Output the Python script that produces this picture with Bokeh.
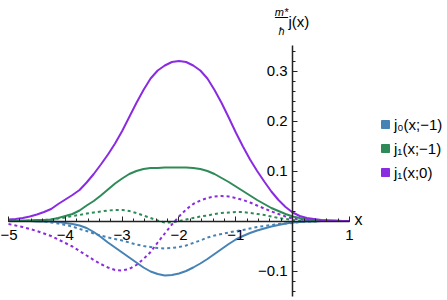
from bokeh.plotting import figure
from bokeh.models import (Range1d, FixedTicker, CustomJSTickFormatter, Label,
                          Legend, LegendItem)
from bokeh.embed import file_html
from bokeh.resources import INLINE

# ---- data ----
x = [-5.0, -4.875, -4.75, -4.625, -4.5, -4.375, -4.25, -4.125,
     -4.0, -3.875, -3.75, -3.625, -3.5, -3.375, -3.25, -3.125,
     -3.0, -2.875, -2.75, -2.625, -2.5, -2.375, -2.25, -2.125,
     -2.0, -1.875, -1.75, -1.625, -1.5, -1.375, -1.25, -1.125,
     -1.0, -0.875, -0.75, -0.625, -0.5, -0.375, -0.25, -0.125,
     0.0, 0.125, 0.25, 0.375, 0.5, 0.625, 0.75, 0.875, 1.0]

j0_m1 = [0.0, 0.0, 0.0, 0.0, -0.001, -0.001, -0.001, -0.002,
         -0.004, -0.006, -0.009, -0.014, -0.022, -0.032, -0.043, -0.053,
         -0.063, -0.073, -0.083, -0.093, -0.101, -0.106, -0.109, -0.108,
         -0.105, -0.100, -0.093, -0.085, -0.076, -0.066, -0.056, -0.046,
         -0.037, -0.030, -0.024, -0.019, -0.015, -0.011, -0.008, -0.005,
         -0.003, -0.002, -0.001, -0.001, 0.0, 0.0, 0.0, 0.0, 0.0]
j1_m1 = [0.0, 0.0, 0.001, 0.001, 0.002, 0.002, 0.003, 0.006,
         0.010, 0.014, 0.021, 0.031, 0.040, 0.051, 0.063, 0.075,
         0.085, 0.094, 0.100, 0.104, 0.106, 0.106, 0.107, 0.107,
         0.107, 0.107, 0.106, 0.104, 0.100, 0.094, 0.086, 0.078,
         0.069, 0.060, 0.051, 0.042, 0.034, 0.026, 0.020, 0.014,
         0.009, 0.006, 0.004, 0.002, 0.001, 0.001, 0.0, 0.0, 0.0]
j1_0 = [0.003, 0.004, 0.006, 0.009, 0.013, 0.018, 0.024, 0.034,
        0.043, 0.052, 0.062, 0.077, 0.094, 0.113, 0.133, 0.155,
        0.180, 0.208, 0.236, 0.262, 0.285, 0.301, 0.311, 0.318,
        0.320, 0.318, 0.311, 0.301, 0.285, 0.262, 0.236, 0.207,
        0.177, 0.149, 0.123, 0.100, 0.079, 0.059, 0.042, 0.028,
        0.017, 0.010, 0.006, 0.004, 0.002, 0.001, 0.001, 0.0, 0.0]

j0_m1_dot = [0.0, 0.0, 0.0, 0.0, 0.0, -0.001, -0.003, -0.005,
             -0.008, -0.011, -0.016, -0.020, -0.025, -0.029, -0.033, -0.036,
             -0.039, -0.043, -0.047, -0.050, -0.052, -0.054, -0.055, -0.054,
             -0.052, -0.049, -0.044, -0.039, -0.033, -0.029, -0.026, -0.023,
             -0.020, -0.018, -0.015, -0.012, -0.010, -0.008, -0.006, -0.005,
             -0.004, -0.002, -0.001, -0.001, 0.0, 0.0, 0.0, 0.0, 0.0]
j1_m1_dot = [0.0, 0.0, 0.0, 0.001, 0.001, 0.002, 0.003, 0.005,
             0.007, 0.010, 0.012, 0.015, 0.017, 0.019, 0.021, 0.022,
             0.022, 0.020, 0.016, 0.011, 0.006, 0.001, -0.003, -0.003,
             0.0, 0.003, 0.006, 0.009, 0.011, 0.014, 0.016, 0.017,
             0.018, 0.018, 0.016, 0.014, 0.012, 0.009, 0.006, 0.004,
             0.002, 0.001, 0.001, 0.0, 0.0, 0.0, 0.0, 0.0, 0.0]
j1_0_dot = [-0.006, -0.009, -0.012, -0.016, -0.020, -0.025, -0.030, -0.037,
            -0.044, -0.051, -0.060, -0.069, -0.078, -0.086, -0.093, -0.098,
            -0.099, -0.096, -0.088, -0.076, -0.062, -0.043, -0.025, -0.007,
            0.009, 0.023, 0.034, 0.041, 0.046, 0.049, 0.050, 0.049,
            0.046, 0.042, 0.037, 0.031, 0.025, 0.019, 0.014, 0.009,
            0.005, 0.003, 0.002, 0.001, 0.001, 0.0, 0.0, 0.0, 0.0]

legend_labels = ["j\u2080(x;\u22121)", "j\u2081(x;\u22121)", "j\u2081(x;0)"]
x_ticks = [-5, -4, -3, -2, -1, 0, 1]
x_minor = [round(-5 + 0.2 * i, 2) for i in range(31)]
y_ticks = [-0.1, 0.0, 0.1, 0.2, 0.3]
y_minor = [round(-0.14 + 0.02 * i, 2) for i in range(25)]

BLUE = "#4682B4"
GREEN = "#2E8B57"
PURPLE = "#8A2BE2"
FONT = "Liberation Sans"
NAN = float("nan")

# ---- figure (frame fills the canvas; axes are bounded) ----
p = figure(width=447, height=300, output_backend="svg", toolbar_location=None,
           x_range=Range1d(-5.1408, 2.7244), y_range=Range1d(-0.159, 0.441),
           min_border_left=0, min_border_right=0, min_border_top=0, min_border_bottom=0)
p.outline_line_color = None
p.xgrid.visible = False
p.ygrid.visible = False

# curves
p.line(x, j0_m1_dot, color=BLUE, line_width=2, line_dash="3 3")
p.line(x, j1_m1_dot, color=GREEN, line_width=2, line_dash="3 3")
p.line(x, j1_0_dot, color=PURPLE, line_width=2, line_dash="3 3")
p.line(x, j0_m1, color=BLUE, line_width=2)
p.line(x, j1_m1, color=GREEN, line_width=2)
p.line(x, j1_0, color=PURPLE, line_width=2)

# axes through origin
for ax in (p.xaxis[0], p.yaxis[0]):
    ax.fixed_location = 0
    ax.axis_line_color = "#222222"
    ax.axis_line_width = 1.5
    ax.major_tick_line_color = "#222222"
    ax.minor_tick_line_color = "#222222"
    ax.major_tick_in = 5
    ax.major_tick_out = 0
    ax.minor_tick_in = 3
    ax.minor_tick_out = 0
    ax.major_label_text_font = FONT
    ax.major_label_text_font_size = "15px"
    ax.major_label_text_color = "black"

xa = p.xaxis[0]
xa.bounds = (-5, 1)
xa.ticker = FixedTicker(ticks=x_ticks, minor_ticks=x_minor)
xa.formatter = CustomJSTickFormatter(code="""
  if (Math.abs(tick) < 1e-9) return '';
  const v = Math.round(tick);
  return v < 0 ? '\u2212' + (-v) : '' + v;
""")
xa.major_label_standoff = 9

ya = p.yaxis[0]
ya.bounds = (-0.151, 0.351)
ya.ticker = FixedTicker(ticks=y_ticks, minor_ticks=y_minor)
ya.formatter = CustomJSTickFormatter(code="""
  if (Math.abs(tick) < 1e-9) return '';
  return tick < 0 ? '\u2212' + (-tick).toFixed(1) : tick.toFixed(1);
""")
ya.major_label_standoff = 5

# axis titles
def lab(text, dx, dy, size, style="normal", align="center"):
    p.add_layout(Label(x=dx, y=dy, text=text, text_font=FONT, text_font_size=size,
                       text_font_style=style, text_align=align, text_baseline="middle",
                       text_color="black"))

lab("x", 1.158, 0.003, "16px")
lab("m*", -0.196, 0.419, "11px", "italic")
lab("\u2014", -0.196, 0.409, "13px")
lab("\u0127", -0.196, 0.381, "11px", "italic")
lab("j(x)", -0.073, 0.399, "15px", align="left")

# legend with square swatches (proxy renderers hold no visible data)
items = []
for lab_text, col in zip(legend_labels, [BLUE, GREEN, PURPLE]):
    r = p.quad(left=[NAN], right=[NAN], top=[NAN], bottom=[NAN], fill_color=col, line_color=col)
    items.append(LegendItem(label=lab_text, renderers=[r]))
legend = Legend(items=items, location=(380, 118), glyph_width=10, glyph_height=10,
                label_standoff=4, spacing=4, padding=0, margin=0, label_height=20,
                border_line_color=None, background_fill_alpha=0,
                label_text_font=FONT, label_text_font_size="15px",
                label_text_color="black")
p.add_layout(legend)

open("out.html", "w").write(file_html(p, INLINE))
